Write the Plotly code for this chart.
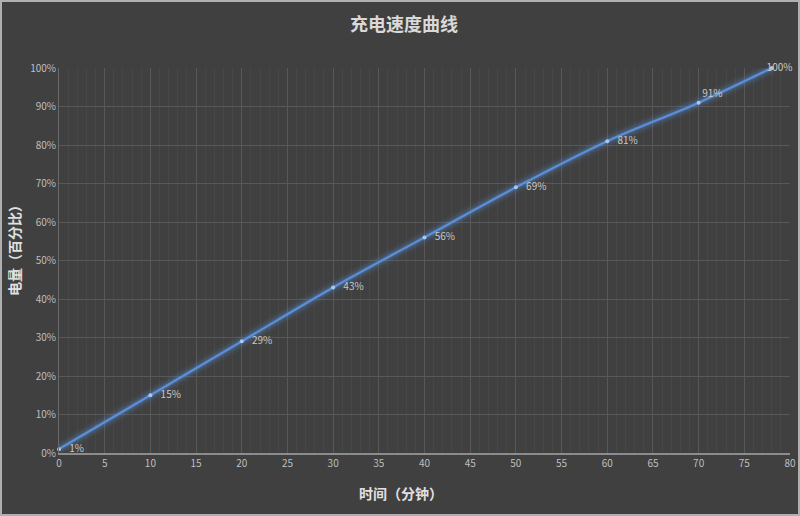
import plotly.graph_objects as go

# dados
minutos = [0, 10, 20, 30, 40, 50, 60, 70, 78]
carga = [1, 15, 29, 43, 56, 69, 81, 91, 100]
rotulos = ["\u00a0\u00a0\u00a0" + f"{v}%" for v in carga[:7]] + ["91%", "\u00a0\u00a0\u00a0\u00a0\u00a0\u00a0\u00a0100%"]
posicoes = ["middle right"] * 7 + ["top right", "middle center"]

titulo = "充电速度曲线"
titulo_x = "时间（分钟）"
titulo_y = "电量（百分比）"

fonte = "Noto Sans CJK SC"
fundo = "#404040"
azul = "#5b8fd9"

L, R, T, B = 59, 10, 68, 63
W, H = 800, 516
pw, ph = W - L - R, H - T - B

fig = go.Figure()

# brilho em volta da linha
for w, a in [(14, 0.07), (9, 0.13), (5, 0.22)]:
    fig.add_trace(go.Scatter(
        x=minutos, y=carga, mode="lines",
        line=dict(color=f"rgba(91,143,217,{a})", width=w, shape="spline"),
        hoverinfo="skip", showlegend=False,
    ))

fig.add_trace(go.Scatter(
    x=minutos, y=carga,
    mode="lines+markers+text",
    line=dict(color=azul, width=2.2, shape="spline"),
    marker=dict(color="#a9c8f0", size=4),
    text=rotulos,
    textposition=posicoes,
    textfont=dict(color="#c8c8c8", size=10, family=fonte),
    cliponaxis=False,
    showlegend=False,
))

fig.update_layout(
    width=W, height=H,
    paper_bgcolor=fundo, plot_bgcolor=fundo,
    margin=dict(l=L, r=R, t=T, b=B),
    font=dict(family=fonte, color="#bfbfbf", size=10),
    title=dict(text=f"<b>{titulo}</b>", x=0.505, xanchor="center",
               y=1 - 25 / H, yanchor="middle",
               font=dict(size=18, color="#d9d9d9", family=fonte)),
    showlegend=False,
)

fig.update_xaxes(
    range=[0, 80], dtick=5, tick0=0, automargin=False,
    showgrid=True, gridcolor="#585858", gridwidth=1,
    minor=dict(dtick=1, showgrid=True, gridcolor="#474747", gridwidth=1),
    showline=True, linecolor="#8c8c8c", linewidth=2,
    zeroline=False, ticks="",
    tickfont=dict(size=10, color="#bfbfbf"),
)

fig.update_yaxes(
    range=[0, 100], dtick=10, ticksuffix="%", automargin=False,
    showgrid=True, gridcolor="#585858", gridwidth=1,
    showline=True, linecolor="#6a6a6a", linewidth=1,
    zeroline=False, ticks="",
    tickfont=dict(size=10, color="#bfbfbf"),
)

# títulos dos eixos como anotações (posição igual à da referência)
fig.add_annotation(text=f"<b>{titulo_x}</b>", xref="paper", yref="paper",
                   x=(401 - L) / pw, y=-(493 - (H - B)) / ph,
                   showarrow=False, xanchor="center", yanchor="middle",
                   font=dict(size=14, color="#e0e0e0", family=fonte))
fig.add_annotation(text=f"<b>{titulo_y}</b>", xref="paper", yref="paper",
                   x=-(L - 14) / pw, y=((H - B) - 247) / ph, textangle=-90,
                   showarrow=False, xanchor="center", yanchor="middle",
                   font=dict(size=14, color="#e0e0e0", family=fonte))

# moldura clara em volta da imagem
fig.add_shape(type="rect", xref="paper", yref="paper",
              x0=-(L - 1) / pw, x1=1 + (R - 1) / pw,
              y0=-(B - 1) / ph, y1=1 + (T - 1) / ph,
              line=dict(color="#b0b0b0", width=2), layer="above")

# tira a margem padrão do body para a figura ocupar a janela inteira
fig.write_html("out.html", config={"displayModeBar": False},
               post_script="document.body.style.margin='0';")
